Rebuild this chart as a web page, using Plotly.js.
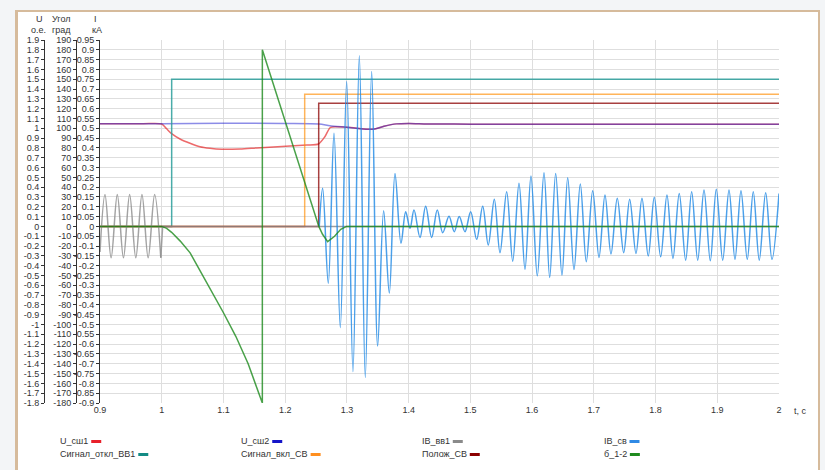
<!DOCTYPE html>
<html><head><meta charset="utf-8">
<script src="https://cdn.plot.ly/plotly-3.0.1.min.js"></script>
<style>
html,body{margin:0;padding:0;width:825px;height:470px;overflow:hidden;background:#f3f5f7;}
#card{position:absolute;left:15px;top:10px;width:805px;height:470px;background:#fff;border-left:3px solid #d6bb9c;border-top:2px solid #d6bb9c;border-right:2px solid #d6bb9c;box-sizing:border-box;}
#chart{position:absolute;left:0;top:0;width:825px;height:470px;}
</style></head><body><div id="card"></div><div id="chart"></div>
<script>
// ---------- DATA ----------
const seriesNames = ["U_сш1","U_сш2","IВ_вв1","IВ_св","Сигнал_откл_ВВ1","Сигнал_вкл_СВ","Полож_СВ","б_1-2"];
const lineColors  = ["#e41a1c","#1a1ad0","#8c8c8c","#1e88e5","#2a9d9a","#ff8c00","#8b0000","#1b8a1b"];
const swatchColors= ["#e8202a","#1515c8","#8a8a8a","#2f8ae5","#138b84","#ff8f1f","#8b0000","#1f8b1f"];

const xTickText = ["0.9","1","1.1","1.2","1.3","1.4","1.5","1.6","1.7","1.8","1.9","2"];
const uTickText = ["1.9","1.8","1.7","1.6","1.5","1.4","1.3","1.2","1.1","1","0.9","0.8","0.7","0.6","0.5","0.4","0.3","0.2","0.1","0","-0.1","-0.2","-0.3","-0.4","-0.5","-0.6","-0.7","-0.8","-0.9","-1","-1.1","-1.2","-1.3","-1.4","-1.5","-1.6","-1.7","-1.8"];
const angTickText = ["190","180","170","160","150","140","130","120","110","100","90","80","70","60","50","40","30","20","10","0","-10","-20","-30","-40","-50","-60","-70","-80","-90","-100","-110","-120","-130","-140","-150","-160","-170","-180"];
const iTickText = ["0.95","0.9","0.85","0.8","0.75","0.7","0.65","0.6","0.55","0.5","0.45","0.4","0.35","0.3","0.25","0.2","0.15","0.1","0.05","0","-0.05","-0.1","-0.15","-0.2","-0.25","-0.3","-0.35","-0.4","-0.45","-0.5","-0.55","-0.6","-0.65","-0.7","-0.75","-0.8","-0.85","-0.9"];

// U_сш1, о.е.
const tU1 = [0.9,0.97,1.0,1.008,1.016,1.0296,1.0458,1.062,1.078,1.097,1.127,1.154,1.181,1.208,1.235,1.254,1.2643,1.2735,1.3,1.333,1.345,1.36,1.38,1.4,1.43,1.5,1.9,2.0];
const vU1 = [1.047,1.047,1.044,0.995,0.945,0.891,0.847,0.812,0.796,0.786,0.789,0.80,0.81,0.82,0.83,0.84,0.914,1.01,1.01,0.99,0.993,1.02,1.045,1.05,1.045,1.042,1.042,1.04];
// U_сш2, о.е.
const tU2 = [0.9,1.0,1.1,1.2,1.255,1.2726,1.3,1.333,1.345,1.36,1.38,1.4,1.43,1.5,1.9,2.0];
const vU2 = [1.047,1.047,1.052,1.05,1.045,1.025,1.01,0.99,0.993,1.02,1.045,1.05,1.045,1.042,1.042,1.04];
// IВ_вв1, кА
const tIvv1 = [0.9,0.9081,0.918,0.928,0.938,0.948,0.958,0.968,0.978,0.9885,0.9985];
const vIvv1 = [-0.13,0.163,-0.16,0.163,-0.16,0.163,-0.16,0.163,-0.16,0.163,-0.16];
const tIvv1b = [0.9985,1.0015,2.0];
const vIvv1b = [-0.16,0,0];
// IВ_св, кА
const tIsv = [1.2552,1.2607,1.2698,1.2791,1.2893,1.2996,1.3098,1.3201,1.3298,1.3401,1.3498,1.3595,1.3687,1.3779,1.3876,1.3952,1.4022,1.4087,1.4184,1.4276,1.4373,1.4464,1.4552,1.4654,1.4739,1.4820,1.4913,1.5005,1.5102,1.5200,1.5290,1.5388,1.5480,1.5588,1.5686,1.5788,1.5885,1.5982,1.6084,1.6193,1.6285,1.6382,1.6484,1.6577,1.6679,1.6781,1.6878,1.6982,1.7084,1.7181,1.7278,1.7380,1.7484,1.7581,1.7683,1.7780,1.7882,1.7979,1.8083,1.8185,1.8282,1.8384,1.8488,1.8585,1.8683,1.8785,1.8887,1.8984,1.9088,1.9190,1.9287,1.9384,1.9486,1.9583,1.9680,1.9784,1.9886,2.0];
const vIsv = [0,0.194,-0.29,0.475,-0.515,0.738,-0.74,0.87,-0.77,0.79,-0.61,0.08,-0.34,0.27,-0.086,0.075,-0.01,0.083,-0.056,0.103,-0.056,0.083,-0.032,0.052,-0.027,0.05,-0.027,0.075,-0.066,0.103,-0.095,0.138,-0.134,0.177,-0.177,0.22,-0.218,0.257,-0.252,0.274,-0.26,0.27,-0.248,0.248,-0.22,0.216,-0.18,0.182,-0.158,0.16,-0.141,0.143,-0.134,0.138,-0.138,0.143,-0.151,0.148,-0.155,0.16,-0.163,0.168,-0.172,0.177,-0.172,0.185,-0.175,0.189,-0.172,0.185,-0.168,0.182,-0.168,0.177,-0.172,0.172,-0.168,0.168];
// signals, о.е.
const tSigOff = [0.9,1.0161,2.0], vSigOff = [0,1.5,1.5];
const tSigOn  = [0.9,1.2316,2.0], vSigOn  = [0,1.347,1.347];
const tPolSV  = [0.9,1.2543,2.0], vPolSV  = [0,1.255,1.255];
// б_1-2, град
const tDelta = [0.9,1.0,1.008,1.016,1.03,1.046,1.062,1.08,1.1,1.12,1.14,1.163,1.163,1.2545,1.2605,1.2688,1.28,1.29,1.2995,2.0];
const vDelta = [0,0,-2,-6,-15,-27,-45,-65,-88,-112,-140,-180,180,0,-8,-15.5,-10,-3,0,0];

// ---------- LAYOUT HELPERS ----------
const W=825,H=470,ML=0,MR=46,MT=40,MB=67;
const PW=W-ML-MR, PH=H-MT-MB;
const px = x => (x-ML)/PW;
const py = y => (H-MB-y)/PH;
const FONT = "Liberation Sans, Arial, sans-serif";

function tr(x,y,name,ci,axis,shape,op,sm){
  return {type:"scatter",mode:"lines",x:x,y:y,name:name,yaxis:axis,showlegend:false,
    opacity:op,hoverinfo:"skip",line:{color:lineColors[ci],width:1.5,shape:shape,smoothing:sm||1}};
}
const traces = [
  tr(tU1,vU1,seriesNames[0],0,"y","spline",0.65,0.7),
  tr(tU2,vU2,seriesNames[1],1,"y","spline",0.5,0.7),
  tr(tSigOff,vSigOff,seriesNames[4],4,"y","hv",0.85),
  tr(tSigOn,vSigOn,seriesNames[5],5,"y","hv",0.65),
  tr(tPolSV,vPolSV,seriesNames[6],6,"y","hv",0.75),
  tr(tIvv1,vIvv1,seriesNames[2],2,"y2","spline",0.8),
  tr(tIvv1b,vIvv1b,seriesNames[2],2,"y2","linear",0.8),
  tr(tIsv,vIsv,seriesNames[3],3,"y2","spline",0.8),
  tr(tDelta,vDelta,seriesNames[7],7,"y3","linear",0.8)
];

const tickFont = {family:FONT,size:9,color:"#333"};
const yCommon = {showline:true,linecolor:"#333",linewidth:1,ticks:"outside",ticklen:3,tickcolor:"#333",
  tickfont:tickFont,zeroline:false,fixedrange:true,side:"left"};
const yInner = {showline:false,ticks:"inside",ticklen:3,tickcolor:"#333",showticklabels:false,showgrid:false,
  zeroline:false,fixedrange:true,side:"left",overlaying:"y"};
const layout = {
  width:W,height:H,margin:{l:ML,r:MR,t:MT,b:MB,pad:0},
  paper_bgcolor:"rgba(0,0,0,0)",plot_bgcolor:"rgba(0,0,0,0)",
  showlegend:false,
  xaxis:{domain:[px(100),1],range:[0.9,2],tickvals:xTickText.map(Number),ticktext:xTickText,
    showgrid:true,gridcolor:"#dedede",gridwidth:1,zeroline:false,showline:false,ticks:"",
    tickfont:tickFont,anchor:"y",fixedrange:true},
  xaxis2:{overlaying:"x",anchor:"free",position:py(226.4),range:[0.9,2],tickvals:xTickText.map(Number).slice(1),
    ticks:"outside",ticklen:3,tickcolor:"#666",showticklabels:false,showgrid:false,showline:false,zeroline:false,fixedrange:true},
  yaxis:Object.assign({},yCommon,{range:[-1.8,1.9],tickvals:uTickText.map(Number),ticktext:uTickText,
    anchor:"free",position:px(44),showgrid:true,gridcolor:"#dedede",gridwidth:1}),
  yaxis2:Object.assign({},yCommon,{range:[-0.9,0.95],tickvals:iTickText.map(Number),ticktext:iTickText,
    overlaying:"y",anchor:"x",showgrid:false}),
  yaxis3:Object.assign({},yCommon,{range:[-180,190],tickvals:angTickText.map(Number),ticktext:angTickText,
    overlaying:"y",anchor:"free",position:px(76),showgrid:false}),
  yaxis4:Object.assign({},yInner,{range:[-1.8,1.9],tickvals:uTickText.map(Number),anchor:"free",position:px(44)}),
  yaxis5:Object.assign({},yInner,{range:[-180,190],tickvals:angTickText.map(Number),anchor:"free",position:px(76)}),
  yaxis6:Object.assign({},yInner,{range:[-0.9,0.95],tickvals:iTickText.map(Number),anchor:"free",position:px(100)}),
  annotations:[],shapes:[]
};

function ann(text,x,y,xa,size){
  layout.annotations.push({text:text,xref:"paper",yref:"paper",x:px(x),y:py(y),xanchor:xa||"center",yanchor:"middle",
    showarrow:false,font:{family:FONT,size:size||9,color:"#333"}});
}
// axis titles
ann("U",39,19); ann("о.е.",38,30);
ann("Угол",61,19); ann("град",61,30);
ann("I",95,19); ann("кА",97,30);
ann("t, c",801,411);

// legend (text followed by a short coloured bar)
const legCols=[59,240,420.7,602.7], legRows=[441,454];
const legendOrder=[[0,1,2,3],[4,5,6,7]];
const cv=document.createElement("canvas").getContext("2d");
cv.font="9px 'Liberation Sans'";
legendOrder.forEach((row,ri)=>row.forEach((si,ci)=>{
  const x0=legCols[ci], y0=legRows[ri];
  ann(seriesNames[si],x0-1,y0,"left",9);
  const w=cv.measureText(seriesNames[si]).width;
  const sx=x0+w+4;
  layout.shapes.push({type:"line",xref:"paper",yref:"paper",x0:px(sx),x1:px(sx+10),y0:py(y0+0.5),y1:py(y0+0.5),
    line:{color:swatchColors[si],width:3}});
}));

Plotly.newPlot("chart",traces,layout,{staticPlot:true,displayModeBar:false});
</script></body></html>
